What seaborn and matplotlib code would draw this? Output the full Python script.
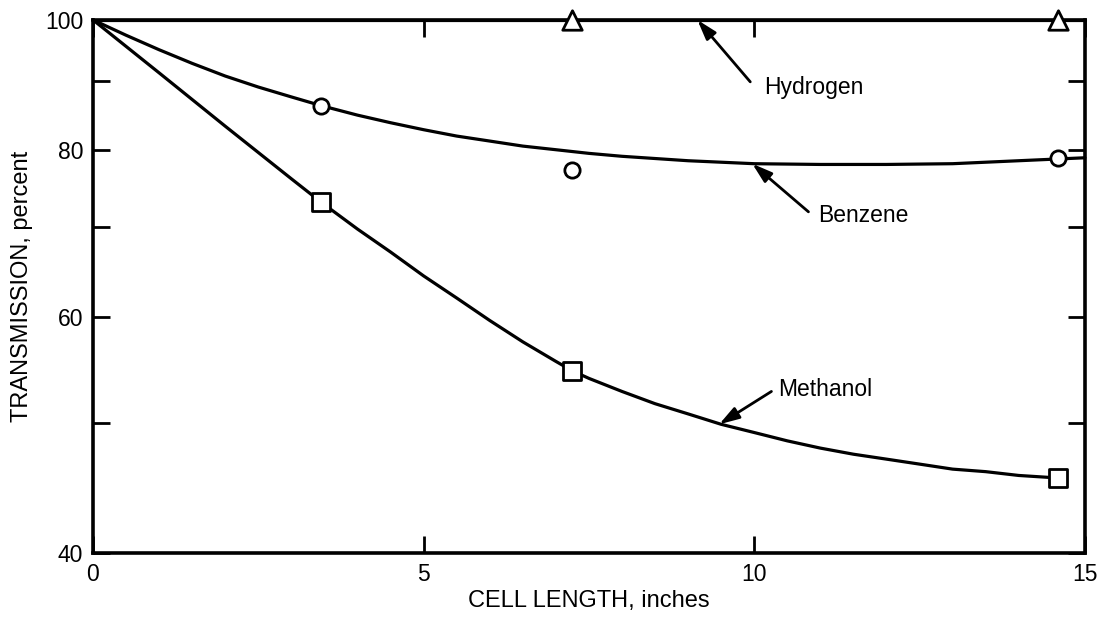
import matplotlib
matplotlib.use("Agg")
import matplotlib.pyplot as plt
from matplotlib.ticker import NullLocator
import seaborn as sns

# Measured transmission (percent) versus cell length (inches)
hydrogen_x = [7.25, 14.6]
hydrogen_pts = [100.0, 100.0]
benzene_x = [3.45, 7.25, 14.6]
benzene_pts = [86.3, 77.2, 78.9]
methanol_x = [3.45, 7.25, 14.6]
methanol_pts = [73.1, 54.7, 45.5]

# Smoothed curves drawn through the measurements
hydrogen_curve_x = [0, 15]
hydrogen_curve_y = [100, 100]
benzene_curve_x = [0, 0.5, 1, 1.5, 2, 2.5, 3, 3.45, 4, 4.5, 5, 5.5, 6, 6.5, 7, 7.5, 8,
                   9, 10, 11, 12, 13, 14, 15]
benzene_curve_y = [100, 97.4, 95.0, 92.8, 90.8, 89.1, 87.6, 86.3, 84.9, 83.8, 82.8, 81.9,
                   81.2, 80.5, 80.0, 79.5, 79.1, 78.5, 78.1, 78.0, 78.0, 78.1, 78.5, 78.9]
methanol_curve_x = [0, 1, 2, 3, 3.45, 4, 4.5, 5, 5.5, 6, 6.5, 7, 7.25, 7.5, 8, 8.5, 9,
                    9.5, 10, 10.5, 11, 11.5, 12, 12.5, 13, 13.5, 14, 14.6]
methanol_curve_y = [100, 91.3, 83.3, 76.1, 73.1, 69.8, 67.1, 64.4, 62.0, 59.65, 57.5, 55.6,
                    54.7, 54.0, 52.8, 51.7, 50.8, 49.9, 49.2, 48.5, 47.9, 47.4, 47.0, 46.6,
                    46.2, 46.0, 45.7, 45.5]

y_ticks = [40, 50, 60, 70, 80, 90, 100]
y_tick_labels = ["40", "", "60", "", "80", "", "100"]
x_ticks = [0, 5, 10, 15]
x_tick_labels = ["0", "5", "10", "15"]

sns.set_theme(style="ticks")
plt.rcParams["font.family"] = ["Liberation Sans", "DejaVu Sans"]
plt.rcParams["text.color"] = "black"
plt.rcParams["axes.labelcolor"] = "black"

fig = plt.figure(figsize=(11.07, 6.22), dpi=100)
ax = fig.add_axes([0.084, 0.111, 0.896, 0.857])
ax.set_yscale("log")
ax.set_xlim(0, 15)
ax.set_ylim(40, 100)

line_w = 2.3
for cx, cy in [(hydrogen_curve_x, hydrogen_curve_y),
               (benzene_curve_x, benzene_curve_y),
               (methanol_curve_x, methanol_curve_y)]:
    sns.lineplot(x=cx, y=cy, ax=ax, color="black", linewidth=line_w,
                 sort=False, estimator=None)
    ax.lines[-1].set_clip_on(False)
    ax.lines[-1].set_solid_joinstyle("round")

for px, py, mk, ms in [(hydrogen_x, hydrogen_pts, "^", 14),
                       (benzene_x, benzene_pts, "o", 11),
                       (methanol_x, methanol_pts, "s", 12.5)]:
    sns.scatterplot(x=px, y=py, ax=ax, marker=mk, s=ms ** 2, color="white",
                    edgecolor="black", linewidth=2, zorder=5, legend=False)
    ax.collections[-1].set_clip_on(False)

ax.set_yticks(y_ticks)
ax.set_yticklabels(y_tick_labels)
ax.yaxis.set_minor_locator(NullLocator())
ax.set_xticks(x_ticks)
ax.set_xticklabels(x_tick_labels)
ax.tick_params(direction="in", length=12, width=2, top=True, right=True,
               labelsize=16.5, pad=7, colors="black")

for sp in ax.spines.values():
    sp.set_linewidth(2.6)
    sp.set_color("black")

ax.set_xlabel("CELL LENGTH, inches", fontsize=17, labelpad=3, color="black")
ax.set_ylabel("TRANSMISSION, percent", fontsize=17, labelpad=9, color="black")

arrow = dict(arrowstyle="-|>,head_length=0.8,head_width=0.25", color="black",
             lw=2, shrinkA=0, shrinkB=0, mutation_scale=15)
ax.annotate("", xy=(9.14, 100), xytext=(9.94, 89.9), arrowprops=arrow,
            annotation_clip=False)
ax.text(10.15, 88.0, "Hydrogen", fontsize=16.5, ha="left", va="baseline", color="black")

ax.annotate("", xy=(9.97, 78.1), xytext=(10.82, 71.9), arrowprops=arrow)
ax.text(10.97, 70.6, "Benzene", fontsize=16.5, ha="left", va="baseline", color="black")

ax.annotate("", xy=(9.47, 49.9), xytext=(10.26, 52.8), arrowprops=arrow)
ax.text(10.36, 52.4, "Methanol", fontsize=16.5, ha="left", va="baseline", color="black")

fig.savefig("out.png", dpi=100)
